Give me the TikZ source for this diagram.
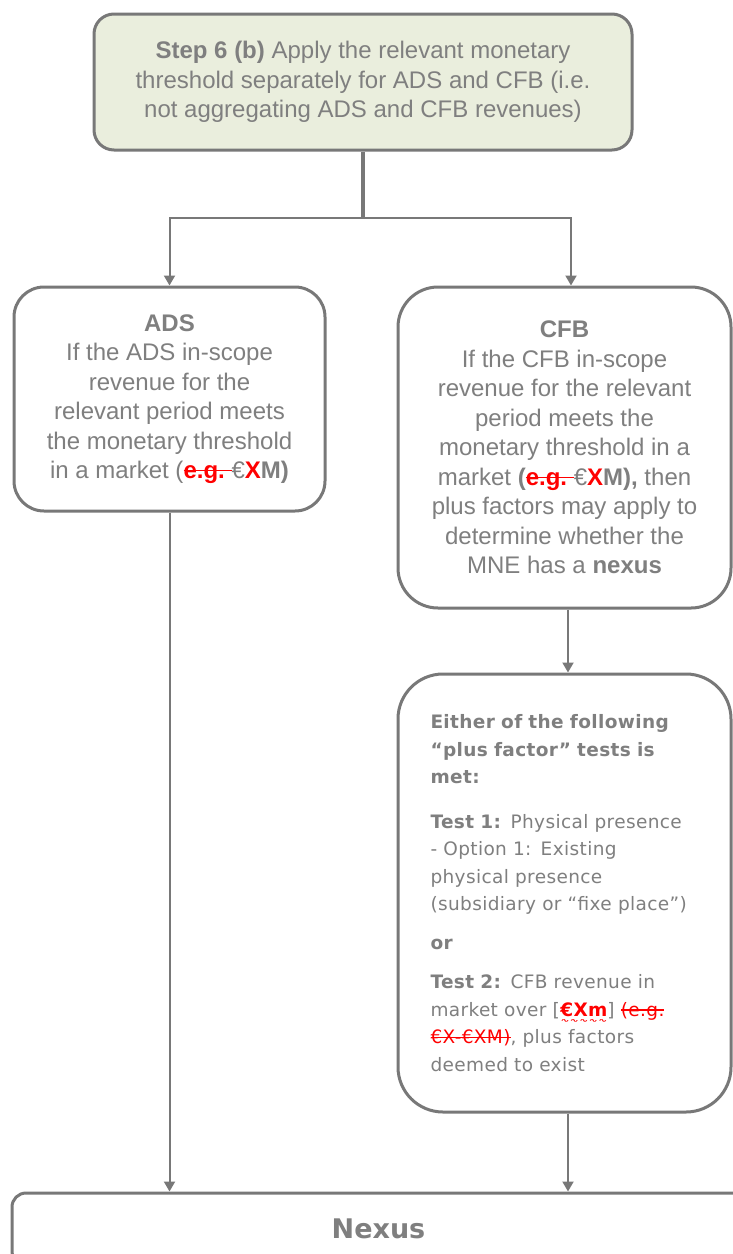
\documentclass[tikz,border=0pt]{standalone}
\usepackage{fontspec}
\setmainfont{Liberation Sans}
\newfontfamily\testfont[LetterSpace=2]{DejaVu Sans}
\newfontfamily\dejavu{DejaVu Sans}
\usetikzlibrary{arrows.meta}

\definecolor{txtgray}{HTML}{7F7F7F}
\definecolor{linegray}{HTML}{787878}
\definecolor{stepfill}{HTML}{EAEEDD}
\definecolor{markred}{HTML}{FF0000}

% struck-out red text, red text, and red text with a wavy underline
\newsavebox\markbox
\newcommand\del[1]{\leavevmode{\color{markred}\sbox\markbox{#1}%
  \rlap{\rule[0.3em]{\wd\markbox}{1.3pt}}\usebox\markbox}}
\newcommand\hl[1]{{\color{markred}#1}}
\newcommand\wavy[1]{\leavevmode{\color{markred}\sbox\markbox{#1}%
  \rlap{\raisebox{-6pt}{\resizebox{\wd\markbox}{3pt}{\dejavu ∿∿∿∿∿}}}%
  \usebox\markbox}}

\tikzset{
  box/.style={draw=linegray, line width=3pt, fill=white, text=txtgray,
    inner sep=0pt, align=center, font=\fontsize{24}{29.5}\selectfont},
  conn/.style={draw=linegray, line width=2pt},
  arrowconn/.style={conn, -{Triangle[width=11pt,length=10pt]}},
}

\begin{document}
\begin{tikzpicture}[x=1pt,y=-1pt]
\useasboundingbox (0,0) rectangle (732,1254);

% decision step
\node[box, rounded corners=20pt, fill=stepfill, minimum width=538pt,
  minimum height=136pt] (step) at (363,82)
  {\textbf{Step 6 (b)} Apply the relevant monetary\\
   threshold separately for ADS and CFB (i.e.\\
   not aggregating ADS and CFB revenues)};

% ADS branch
\node[box, rounded corners=30pt, minimum width=311pt, minimum height=224pt]
  (ads) at (169.5,399)
  {\textbf{ADS}\\
   If the ADS in-scope\\
   revenue for the\\
   relevant period meets\\
   the monetary threshold\\
   in a market (\textbf{\del{e.g.\ }}€\textbf{\hl{X}M)}};

% CFB branch
\node[box, rounded corners=40pt, minimum width=333pt, minimum height=321pt]
  (cfb) at (564.5,447.5)
  {\textbf{CFB}\\
   If the CFB in-scope\\
   revenue for the relevant\\
   period meets the\\
   monetary threshold in a\\
   market \textbf{(\del{e.g.\ }}€\textbf{\hl{X}M),} then\\
   plus factors may apply to\\
   determine whether the\\
   MNE has a \textbf{nexus}};

% plus factor tests
\node[box, rounded corners=45pt, minimum width=333pt, minimum height=438pt,
  text width=268pt, align=left, font=\testfont\fontsize{18.5}{27.5}\selectfont]
  (plus) at (564.5,893)
  {\textbf{Either of the following}\\
   \textbf{“plus factor” tests is}\\
   \textbf{met:}\\[17pt]
   \textbf{Test 1:} Physical presence\\
   - Option 1: Existing\\
   physical presence\\
   (subsidiary or “fixe place”)\\[11.5pt]
   \textbf{or}\\[11.5pt]
   \textbf{Test 2:} CFB revenue in\\
   market over [\textbf{\wavy{€Xm}}] \del{(e.g.}\\
   \del{€X-€XM)}, plus factors\\
   deemed to exist};

% outcome
\node[box, rounded corners=14pt, minimum width=733pt, minimum height=72pt,
  font=\dejavu\fontsize{27}{32}\selectfont] (nexus) at (378.5,1229)
  {\textbf{Nexus}};

% connectors
\coordinate (split) at (363,218);
\draw[conn, line width=3.5pt] (step.south) -- (split);
\draw[arrowconn] (split) -| (ads.north);
\draw[arrowconn] (split) -| ([xshift=6.5pt]cfb.north);
\draw[arrowconn] ([xshift=3.5pt]cfb.south) -- ([xshift=3.5pt]plus.north);
\draw[arrowconn] (ads.south) -- (ads.south |- nexus.north);
\draw[arrowconn] ([xshift=3.5pt]plus.south) -- ([xshift=3.5pt]plus.south |- nexus.north);
\end{tikzpicture}
\end{document}
